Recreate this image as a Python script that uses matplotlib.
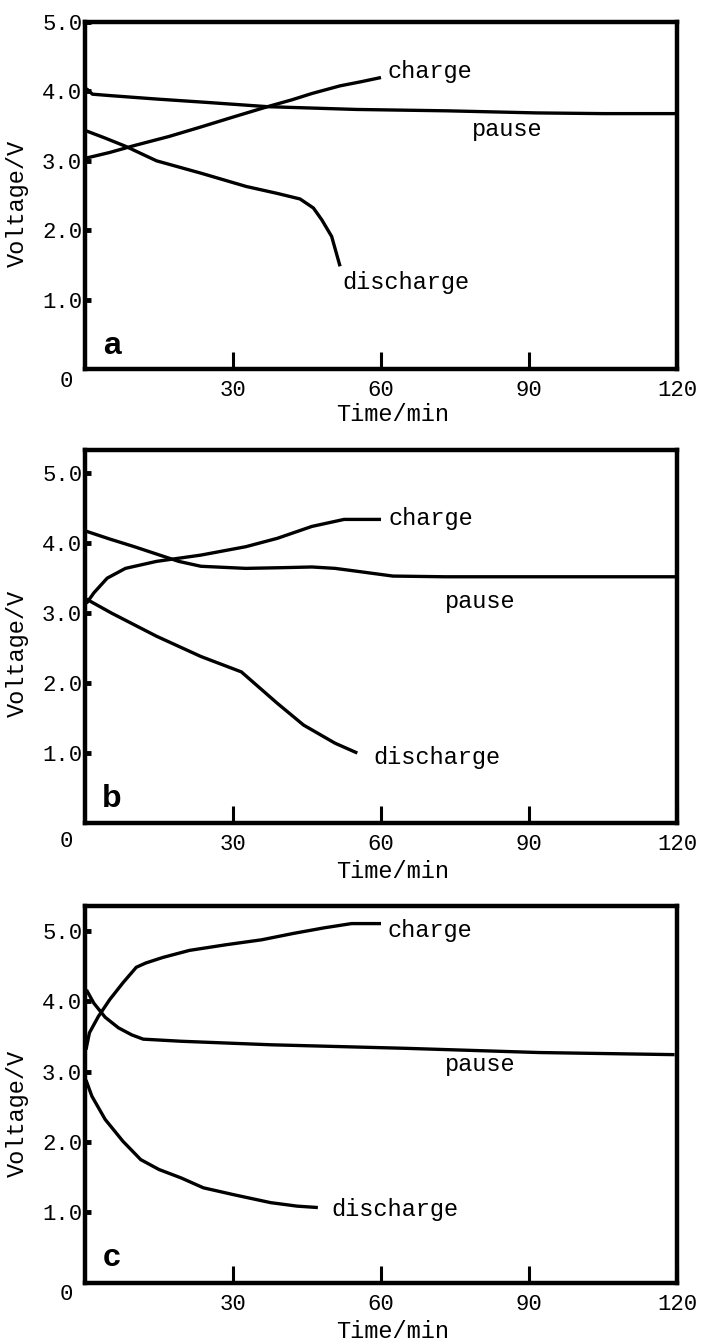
import matplotlib.pyplot as plt

# panel a
a_pause_t = [0.3, 1.5, 5, 14.5, 25, 37, 55, 73.5, 91.6, 105, 120]
a_pause_v = [4.04, 3.96, 3.94, 3.89, 3.84, 3.78, 3.74, 3.72, 3.69, 3.68, 3.68]
a_charge_t = [0.3, 5, 10, 17, 23.6, 30, 37, 42, 46, 51.7, 56, 60]
a_charge_v = [3.04, 3.12, 3.22, 3.35, 3.49, 3.63, 3.78, 3.88, 3.97, 4.08, 4.14, 4.20]
a_dis_t = [0.3, 4, 8.2, 14.5, 23.6, 32.7, 39, 43.6, 46.3, 48, 50, 51.7]
a_dis_v = [3.43, 3.33, 3.21, 3.00, 2.82, 2.63, 2.53, 2.45, 2.32, 2.15, 1.91, 1.48]

# panel b
b_pause_t = [0.3, 5, 10, 19, 23.5, 32.6, 40, 46, 50.7, 55, 62.4, 73, 120]
b_pause_v = [4.17, 4.06, 3.95, 3.74, 3.67, 3.64, 3.65, 3.66, 3.64, 3.60, 3.53, 3.52, 3.52]
b_charge_t = [0.3, 1.8, 4.5, 8.2, 14.5, 23.5, 32.6, 39, 46, 52.5, 60]
b_charge_v = [3.14, 3.29, 3.50, 3.64, 3.74, 3.83, 3.95, 4.07, 4.24, 4.34, 4.34]
b_dis_t = [0.3, 5.4, 14.5, 23.5, 31.7, 39, 44.3, 50.7, 55.2]
b_dis_v = [3.20, 3.00, 2.67, 2.38, 2.16, 1.71, 1.40, 1.14, 1.00]

# panel c
c_pause_t = [0.3, 1.8, 4.1, 6.8, 9.5, 11.8, 19.5, 37.7, 64.9, 92, 119.5]
c_pause_v = [4.16, 3.97, 3.77, 3.62, 3.52, 3.46, 3.43, 3.38, 3.33, 3.27, 3.24]
c_charge_t = [0.2, 0.9, 2.7, 5, 7.7, 10.4, 12.3, 15.8, 21.2, 28.6, 35.8, 42.2, 48.5, 54, 60]
c_charge_v = [3.31, 3.55, 3.78, 4.02, 4.26, 4.48, 4.54, 4.62, 4.72, 4.80, 4.87, 4.96, 5.04, 5.10, 5.10]
c_dis_t = [0.2, 1.4, 4.1, 7.7, 11.3, 15, 19.5, 24, 30.3, 37.6, 43, 47.2]
c_dis_v = [2.88, 2.65, 2.32, 2.01, 1.75, 1.61, 1.49, 1.35, 1.25, 1.14, 1.09, 1.07]

panels = [
    ('a', a_pause_t, a_pause_v, a_charge_t, a_charge_v, a_dis_t, a_dis_v, 5.0,
     [(61.3, 4.29), (78.5, 3.45), (52.2, 1.24)], -0.035, 0.478),
    ('b', b_pause_t, b_pause_v, b_charge_t, b_charge_v, b_dis_t, b_dis_v, 5.33,
     [(61.5, 4.36), (72.9, 3.16), (58.4, 0.93)], -0.05, 0.456),
    ('c', c_pause_t, c_pause_v, c_charge_t, c_charge_v, c_dis_t, c_dis_v, 5.35,
     [(61.3, 5.0), (73.0, 3.1), (50.0, 1.04)], -0.03, 0.45),
]
boxes = [[0.1207, 0.7248, 0.841, 0.2588],
         [0.1207, 0.3863, 0.841, 0.2780],
         [0.1207, 0.0433, 0.841, 0.2811]]

mono = 'Liberation Mono'
fig = plt.figure(figsize=(7.04, 13.41), dpi=100)

for box, p in zip(boxes, panels):
    letter, pt, pv, ct, cv, dt, dv, ytop, labpos, zero_y, ylab_y = p
    ax = fig.add_axes(box)
    for t, v in [(pt, pv), (ct, cv), (dt, dv)]:
        ax.plot(t, v, color='black', lw=2.4, solid_capstyle='butt')
    for (x, y), s in zip(labpos, ['charge', 'pause', 'discharge']):
        ax.text(x, y, s, family=mono, fontsize=17, va='center', ha='left')
    ax.text(0.045, 0.065, letter, transform=ax.transAxes, family='Liberation Sans',
            fontweight='bold', fontsize=23, va='center', ha='center')
    ax.text(-0.032, zero_y, '0', transform=ax.transAxes, family=mono,
            fontsize=16, va='center', ha='center')

    ax.set_xlim(0, 120)
    ax.set_ylim(0, ytop)
    ax.set_xticks([30, 60, 90, 120])
    ax.set_xticklabels(['30', '60', '90', '120'])
    ax.set_yticks([1, 2, 3, 4, 5])
    ax.set_yticklabels(['1.0', '2.0', '3.0', '4.0', '5.0'])
    ax.tick_params(axis='x', direction='in', length=12, width=2.2, pad=8, labelsize=16)
    ax.tick_params(axis='y', direction='in', length=4, width=3.5, pad=2, labelsize=16)
    for lab in ax.get_xticklabels() + ax.get_yticklabels():
        lab.set_family(mono)
    for sp in ax.spines.values():
        sp.set_linewidth(3.2)
    ax.set_xlabel('Time/min', family=mono, fontsize=17)
    ax.set_ylabel('Voltage/V', family=mono, fontsize=17)
    ax.xaxis.set_label_coords(0.52, -0.098)
    ax.yaxis.set_label_coords(-0.095, ylab_y)

fig.savefig('out.png', dpi=100)
